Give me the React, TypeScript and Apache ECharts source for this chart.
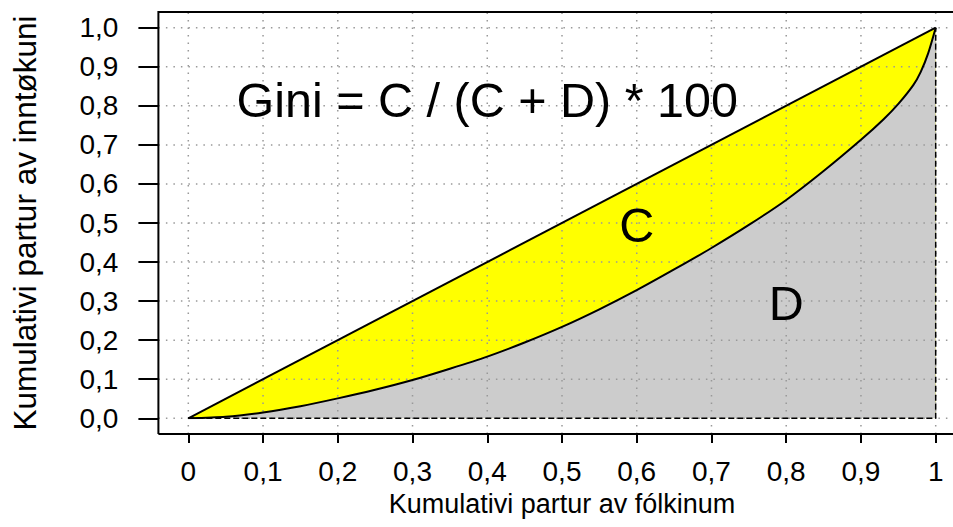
import React, { useEffect, useRef } from "react";
import * as echarts from "echarts";

// Lorenz curve: cumulative share of population vs cumulative share of income
const popShare = [0, 0.05, 0.1, 0.15, 0.2, 0.25, 0.3, 0.35, 0.4, 0.45, 0.5, 0.55, 0.6, 0.65, 0.7, 0.75, 0.8, 0.85, 0.9, 0.93, 0.95, 0.97, 0.98, 0.99, 1.0];
const incomeShare = [0, 0.004, 0.015, 0.031, 0.051, 0.073, 0.098, 0.127, 0.158, 0.194, 0.234, 0.279, 0.328, 0.381, 0.436, 0.495, 0.559, 0.633, 0.713, 0.765, 0.805, 0.853, 0.887, 0.935, 1.0];

// Line of equality
const equalityX = [0, 1];
const equalityY = [0, 1];

// Tick values
const xTicks = [0, 0.1, 0.2, 0.3, 0.4, 0.5, 0.6, 0.7, 0.8, 0.9, 1];
const yTicks = [0, 0.1, 0.2, 0.3, 0.4, 0.5, 0.6, 0.7, 0.8, 0.9, 1];

// Plot region extends 4% beyond data range (R style)
const rangeLo = -0.04;
const rangeHi = 1.04;

// Annotations
const annotX = [0.4, 0.6, 0.8];
const annotY = [0.815, 0.496, 0.296];
const annotText = ["Gini = C / (C + D) * 100", "C", "D"];

const xTitle = "Kumulativi partur av fólkinum";
const yTitle = "Kumulativi partur av inntøkuni";

const FONT = "'Liberation Sans', Arial, Helvetica, sans-serif";

function fmtX(v: number): string {
  if (Math.abs(v) < 1e-9) return "0";
  if (Math.abs(v - 1) < 1e-9) return "1";
  return v.toFixed(1).replace(".", ",");
}
function fmtY(v: number): string {
  return v.toFixed(1).replace(".", ",");
}

export default function App() {
  const ref = useRef<HTMLDivElement>(null);
  useEffect(() => {
    document.body.style.margin = "0";
    if (!ref.current) return;
    const chart = echarts.init(ref.current, undefined, { renderer: "svg" });

    const gridLeft = 188.3;
    const gridTop = 27.7;
    const gridW = 747.4;
    const gridH = 390.6;

    const curve = popShare.map((x, i) => [x, incomeShare[i]]);
    const diag = equalityX.map((x, i) => [x, equalityY[i]]);
    const boxPts = [
      [rangeLo, rangeLo],
      [rangeHi, rangeLo],
      [rangeHi, rangeHi],
      [rangeLo, rangeHi],
      [rangeLo, rangeLo],
    ];

    const gridStyle = { stroke: "#999999", lineWidth: 1.5, lineDash: [1.5, 6] };

    chart.setOption({
      animation: false,
      grid: { left: gridLeft, top: gridTop, width: gridW, height: gridH, outerBoundsMode: "none" },
      xAxis: {
        type: "value",
        min: 0,
        max: 1,
        interval: 0.1,
        offset: (0 - rangeLo) * gridH,
        axisLine: { show: false, onZero: false },
        axisTick: { show: true, length: 9, lineStyle: { color: "#000", width: 2 } },
        splitLine: { show: false },
        axisLabel: { fontSize: 28, color: "#000", fontFamily: FONT, margin: 24, formatter: fmtX },
        name: xTitle,
        nameLocation: "middle",
        nameGap: 57,
        nameTextStyle: { fontSize: 27, color: "#000", fontFamily: FONT },
      },
      yAxis: {
        type: "value",
        min: 0,
        max: 1,
        interval: 0.1,
        offset: (0 - rangeLo) * gridW,
        axisLine: { show: false, onZero: false },
        axisTick: { show: true, length: 20, lineStyle: { color: "#000", width: 2 } },
        splitLine: { show: false },
        axisLabel: { fontSize: 28, color: "#000", fontFamily: FONT, margin: 40, formatter: fmtY },
        name: yTitle,
        nameLocation: "middle",
        nameGap: 117,
        nameTextStyle: { fontSize: 31.5, color: "#000", fontFamily: FONT },
      },
      series: [
        {
          type: "line",
          data: diag,
          symbol: "none",
          lineStyle: { width: 0 },
          areaStyle: { color: "#FFFF00", opacity: 1 },
          z: 1,
        },
        {
          type: "line",
          data: curve,
          symbol: "none",
          smooth: 0.25,
          lineStyle: { width: 0 },
          areaStyle: { color: "#CCCCCC", opacity: 1 },
          z: 2,
        },
        {
          type: "custom",
          coordinateSystem: "cartesian2d",
          data: xTicks.map((v) => [v, 0]),
          z: 3,
          silent: true,
          renderItem: (params: any, api: any) => {
            const x = api.value(0);
            const p1 = api.coord([x, rangeLo]);
            const p2 = api.coord([x, rangeHi]);
            return { type: "line", shape: { x1: p1[0], y1: p1[1], x2: p2[0], y2: p2[1] }, style: gridStyle };
          },
        },
        {
          type: "custom",
          coordinateSystem: "cartesian2d",
          data: yTicks.map((v) => [0, v]),
          z: 3,
          silent: true,
          renderItem: (params: any, api: any) => {
            const y = api.value(1);
            const p1 = api.coord([rangeLo, y]);
            const p2 = api.coord([rangeHi, y]);
            return { type: "line", shape: { x1: p1[0], y1: p1[1], x2: p2[0], y2: p2[1] }, style: gridStyle };
          },
        },
        {
          type: "line",
          data: [[0, 0], [1, 0], [1, 1]],
          symbol: "none",
          lineStyle: { color: "#000", width: 1.5, type: [6, 3] },
          z: 4,
        },
        {
          type: "line",
          data: curve,
          symbol: "none",
          smooth: 0.25,
          lineStyle: { color: "#000", width: 2 },
          z: 5,
        },
        {
          type: "line",
          data: diag,
          symbol: "none",
          lineStyle: { color: "#000", width: 2 },
          z: 5,
        },
        {
          type: "custom",
          coordinateSystem: "cartesian2d",
          data: [[0, 0]],
          z: 6,
          silent: true,
          renderItem: (params: any, api: any) => {
            const points = boxPts.map((p) => api.coord(p));
            return {
              type: "polyline",
              shape: { points },
              style: { stroke: "#000", fill: "none", lineWidth: 2 },
            };
          },
        },
        {
          type: "scatter",
          data: annotX.map((x, i) => ({ value: [x, annotY[i]], name: annotText[i] })),
          symbolSize: 0,
          z: 7,
          itemStyle: { opacity: 1 },
          label: {
            show: true,
            position: "inside",
            formatter: (p: any) => p.name,
            fontSize: 48.5,
            color: "#000000",
            opacity: 1,
            fontFamily: FONT,
          },
        },
      ],
    });

    return () => chart.dispose();
  }, []);

  return <div ref={ref} style={{ width: 953, height: 527 }} />;
}
